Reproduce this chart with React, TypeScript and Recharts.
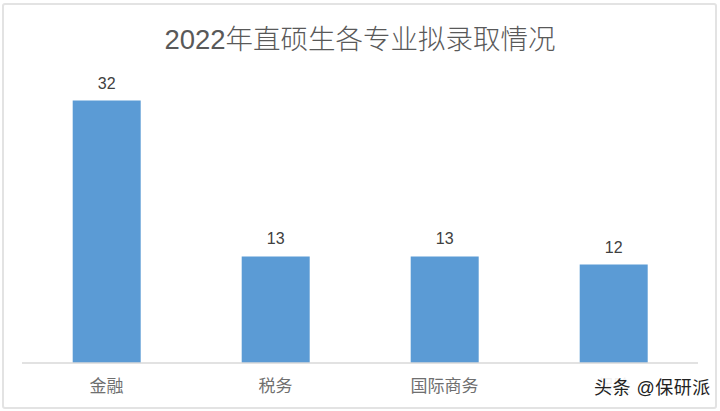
import { Bar, BarChart, LabelList, XAxis, YAxis } from "recharts";

const categories = ["金融", "税务", "国际商务", "保险"];
const admitted = [32, 13, 13, 12];
const yTicks = [0, 35];

const data = categories.map((name, i) => ({ name, value: admitted[i] }));

const BLUE = "#5B9BD5";
const FONT = "'Liberation Sans', 'Noto Sans CJK SC', sans-serif";

export default function App() {
  return (
    <div
      style={{
        position: "absolute",
        left: 0,
        top: 0,
        width: 720,
        height: 411,
        background: "#fff",
        fontFamily: FONT,
      }}
    >
      <div
        style={{
          position: "absolute",
          left: 2,
          top: 3,
          width: 711,
          height: 402,
          border: "2px solid #e3e3e3",
          borderRadius: 3,
        }}
      />
      <div
        style={{
          position: "absolute",
          top: 17,
          width: 720,
          textAlign: "center",
          fontSize: 27.5,
          color: "#595959",
          fontWeight: 300,
        }}
      >
        2022年直硕生各专业拟录取情况
      </div>
      <div style={{ position: "absolute", left: 0, top: 0 }}>
        <BarChart
          width={720}
          height={411}
          data={data}
          margin={{ top: 76, right: 22, left: 22, bottom: 18 }}
          barCategoryGap="30%"
        >
          <XAxis
            dataKey="name"
            tickLine={false}
            axisLine={{ stroke: "#d9d9d9", strokeWidth: 1.5 }}
            tick={{ fill: "#6f6f6f", fontSize: 17, fontFamily: FONT }}
            tickMargin={11}
          />
          <YAxis hide domain={[yTicks[0], yTicks[1]]} ticks={yTicks} />
          <Bar dataKey="value" fill={BLUE} isAnimationActive={false}>
            <LabelList
              dataKey="value"
              position="top"
              offset={12}
              fill="#404040"
              fontSize={16}
              fontFamily={FONT}
            />
          </Bar>
        </BarChart>
      </div>
      <div
        style={{
          position: "absolute",
          left: 590,
          top: 373,
          fontSize: 18,
          color: "#222",
          background: "rgba(255,255,255,0.9)",
          padding: "0 4px",
          letterSpacing: 0.5,
        }}
      >
        头条 @保研派
      </div>
    </div>
  );
}
